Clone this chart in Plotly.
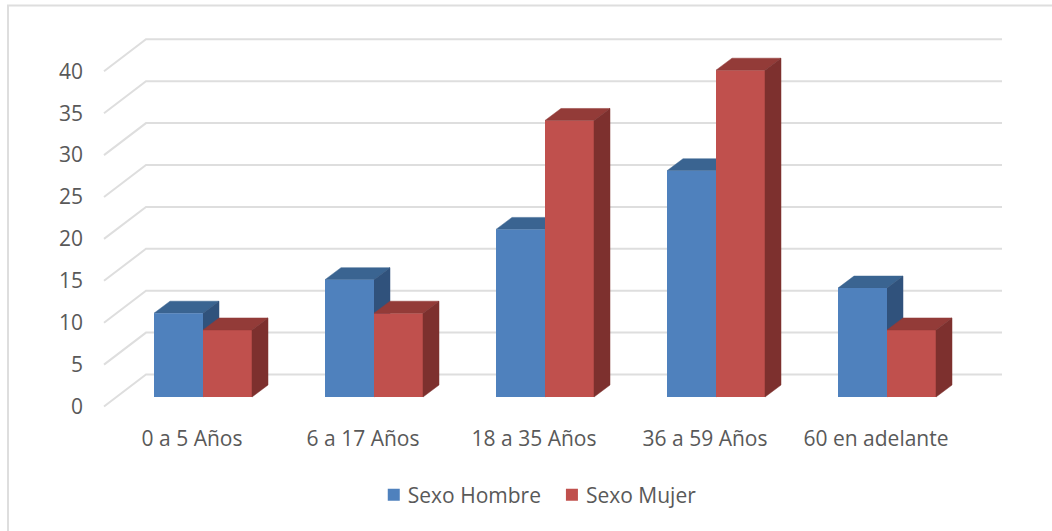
import plotly.graph_objects as go

categories = ["0 a 5 Años", "6 a 17 Años", "18 a 35 Años", "36 a 59 Años", "60 en adelante"]
hombre = [10, 14, 20, 27, 13]
mujer = [8, 10, 33, 39, 8]
y_ticks = [0, 5, 10, 15, 20, 25, 30, 35, 40]

W, H = 1052, 531
L, R, T, B = 88, 1012, 20, 420      # plot area in page pixels
X0_PX, X_STEP = 203, 171            # page x of first category, px per category
Y0_PX, Y_STEP = 397, 8.38           # page y of value 0, px per unit

BAR_W = 49 / X_STEP
DX, DY = 16 / X_STEP, 12 / Y_STEP   # bar depth
WALL_DX, WALL_DY = 57 / X_STEP, 22.5 / Y_STEP
FRONT_DX, FRONT_DY = 99 / X_STEP, -9.5 / Y_STEP
WALL_END = (1002 - X0_PX) / X_STEP

FONT = "Open Sans"
FSIZE = 21
TXT = "#595959"
GRID = "#DEDEDE"


def poly_trace(polys, color, yaxis):
    xs, ys = [], []
    for p in polys:
        xs += [a for a, _ in p] + [p[0][0], None]
        ys += [b for _, b in p] + [p[0][1], None]
    return go.Scatter(x=xs, y=ys, mode="lines", fill="toself", fillcolor=color,
                      line=dict(color=color, width=0.5), hoverinfo="skip",
                      showlegend=False, yaxis=yaxis)


def depth_faces(left, right, value):
    top = [(left, value), (right, value), (right + DX, value + DY), (left + DX, value + DY)]
    side = [(right, 0), (right, value), (right + DX, value + DY), (right + DX, DY)]
    return top, side


fig = go.Figure()

# wall gridlines and side-wall lines
gx, gy = [], []
for v in y_ticks:
    gx += [-FRONT_DX, -WALL_DX, WALL_END, None]
    gy += [v + FRONT_DY, v + WALL_DY, v + WALL_DY, None]
fig.add_trace(go.Scatter(x=gx, y=gy, mode="lines", line=dict(color=GRID, width=2),
                         hoverinfo="skip", showlegend=False))

xpos = list(range(len(categories)))

# blue depth faces: lowest layer, hidden by the red bars in front
blue_tops, blue_sides = [], []
for i, v in zip(xpos, hombre):
    t, s = depth_faces(i - BAR_W, i, v)
    blue_tops.append(t)
    blue_sides.append(s)
fig.add_trace(poly_trace(blue_tops, "#3A6491", "y"))
fig.add_trace(poly_trace(blue_sides, "#30527C", "y"))

# front faces
fig.add_trace(go.Bar(x=xpos, y=hombre, name="Sexo Hombre", width=BAR_W, offset=-BAR_W,
                     marker=dict(color="#4F81BD", line_width=0), yaxis="y2"))
fig.add_trace(go.Bar(x=xpos, y=mujer, name="Sexo Mujer", width=BAR_W, offset=0,
                     marker=dict(color="#C0504D", line_width=0), yaxis="y2"))

# red depth faces: top layer
red_tops, red_sides = [], []
for i, v in zip(xpos, mujer):
    t, s = depth_faces(i, i + BAR_W, v)
    red_tops.append(t)
    red_sides.append(s)
fig.add_trace(poly_trace(red_tops, "#933B38", "y3"))
fig.add_trace(poly_trace(red_sides, "#7D302E", "y3"))

y_range = [(Y0_PX - B) / Y_STEP, (Y0_PX - T) / Y_STEP]
x_range = [(L - X0_PX) / X_STEP, (R - X0_PX) / X_STEP]

Y_LABEL_SHIFT = 9.5 / Y_STEP
X_LABEL_SHIFT = 11 / X_STEP


def px(x):
    return (x - L) / (R - L)


def py(y):
    return (B - y) / (B - T)


frame = dict(type="line", xref="paper", yref="paper")

fig.update_layout(
    width=W, height=H,
    margin=dict(l=L, r=W - R, t=T, b=H - B, autoexpand=False),
    paper_bgcolor="white", plot_bgcolor="white",
    barmode="overlay",
    font=dict(family=FONT, size=FSIZE, color=TXT),
    xaxis=dict(range=x_range, showgrid=False, zeroline=False, showline=False, ticks="",
               tickmode="array", tickvals=[i - X_LABEL_SHIFT for i in xpos], ticktext=categories,
               ticklabelstandoff=4,
               tickfont=dict(family=FONT, size=FSIZE, color=TXT)),
    yaxis=dict(range=y_range, showgrid=False, zeroline=False, showline=False, ticks="",
               tickmode="array", tickvals=[v - Y_LABEL_SHIFT for v in y_ticks],
               ticktext=[str(v) for v in y_ticks], ticklabelstandoff=4,
               tickfont=dict(family=FONT, size=FSIZE, color=TXT)),
    yaxis2=dict(range=y_range, overlaying="y", visible=False),
    yaxis3=dict(range=y_range, overlaying="y", visible=False),
    legend=dict(orientation="h", x=0.49, xanchor="center", y=py(495), yanchor="middle",
                font=dict(family=FONT, size=FSIZE, color=TXT), bgcolor="rgba(0,0,0,0)"),
    shapes=[
        dict(frame, x0=px(7), x1=px(1052), y0=py(5.5), y1=py(5.5), line=dict(color=GRID, width=2)),
        dict(frame, x0=px(8), x1=px(8), y0=py(5.5), y1=py(531), line=dict(color=GRID, width=2)),
    ],
)

post = """
document.body.style.margin='0';
document.querySelectorAll('.legendtext').forEach(function(t){
  t.setAttribute('x', parseFloat(t.getAttribute('x')) - 6);
});
document.querySelectorAll('.legendbar path, .legendundefined path').forEach(function(p){
  p.setAttribute('d', 'M7,7H-7V-7H7Z');
});
"""
fig.write_html("out.html", post_script=post, config={"displayModeBar": False})
